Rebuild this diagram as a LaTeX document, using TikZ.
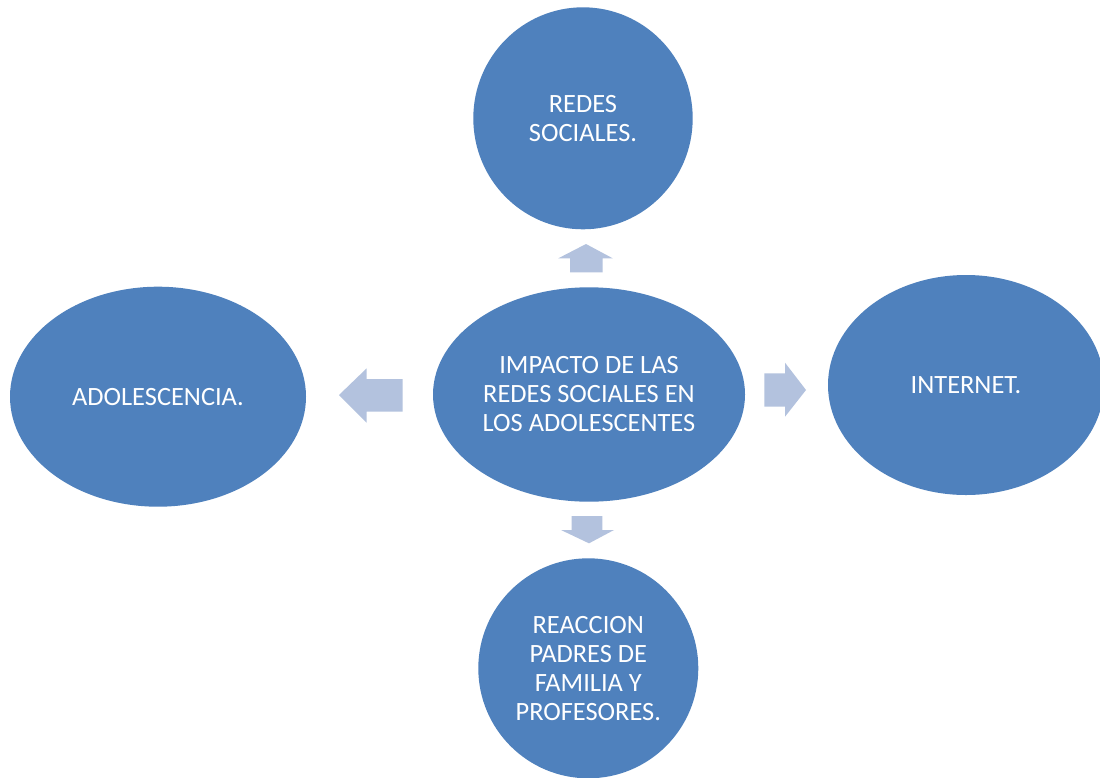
\documentclass[tikz,border=0pt]{standalone}
\usepackage{fontspec}
\setmainfont{Carlito}
\usetikzlibrary{shapes.geometric}
\definecolor{circblue}{HTML}{4F81BD}
\definecolor{arrblue}{HTML}{B3C2DE}
\tikzset{
  bubble/.style={ellipse, fill=circblue, draw=none, inner sep=0pt, text=white,
    align=center, font=\fontsize{26.4}{29}\selectfont},
  blockarrow/.style={fill=arrblue, draw=none}
}
\begin{document}
\begin{tikzpicture}[x=1pt,y=-1pt]
\useasboundingbox (0,0) rectangle (1100,777);
\clip (0,0) rectangle (1100,777);
\fill[white] (0,0) rectangle (1100,777);
% nodes
\node[bubble, minimum width=219.4pt, minimum height=222pt] (redes) at (583,118.3) {REDES\\SOCIALES.};
\node[bubble, minimum width=312pt, minimum height=214.4pt] (impacto) at (589,394.5) {IMPACTO DE LAS\\REDES SOCIALES EN\\LOS ADOLESCENTES};
\node[bubble, minimum width=296pt, minimum height=220pt] (adol) at (158,396.7) {ADOLESCENCIA.};
\node[bubble, minimum width=276pt, minimum height=220pt] (internet) at (966,385) {INTERNET.};
\node[bubble, minimum width=220pt, minimum height=220pt] (reaccion) at (588.3,668.3) {REACCION\\PADRES DE\\FAMILIA Y\\PROFESORES.};
% block arrows
\fill[blockarrow] (586,244) -- (612.7,258.3) -- (602.7,258.3) -- (602.7,272.3) -- (570,272.3) -- (570,258.3) -- (558.3,258.3) -- cycle;
\fill[blockarrow] (339,395) -- (366.7,368.3) -- (366.7,379) -- (402.7,379) -- (402.7,411.7) -- (366.7,411.7) -- (366.7,422.7) -- cycle;
\fill[blockarrow] (806,390) -- (785,362.7) -- (785,373.3) -- (764.3,373.3) -- (764.3,406.7) -- (785,406.7) -- (785,416.7) -- cycle;
\fill[blockarrow] (589,543.3) -- (614,530) -- (602.3,530) -- (602.3,516) -- (571.7,516) -- (571.7,530) -- (561,530) -- cycle;
\end{tikzpicture}
\end{document}
